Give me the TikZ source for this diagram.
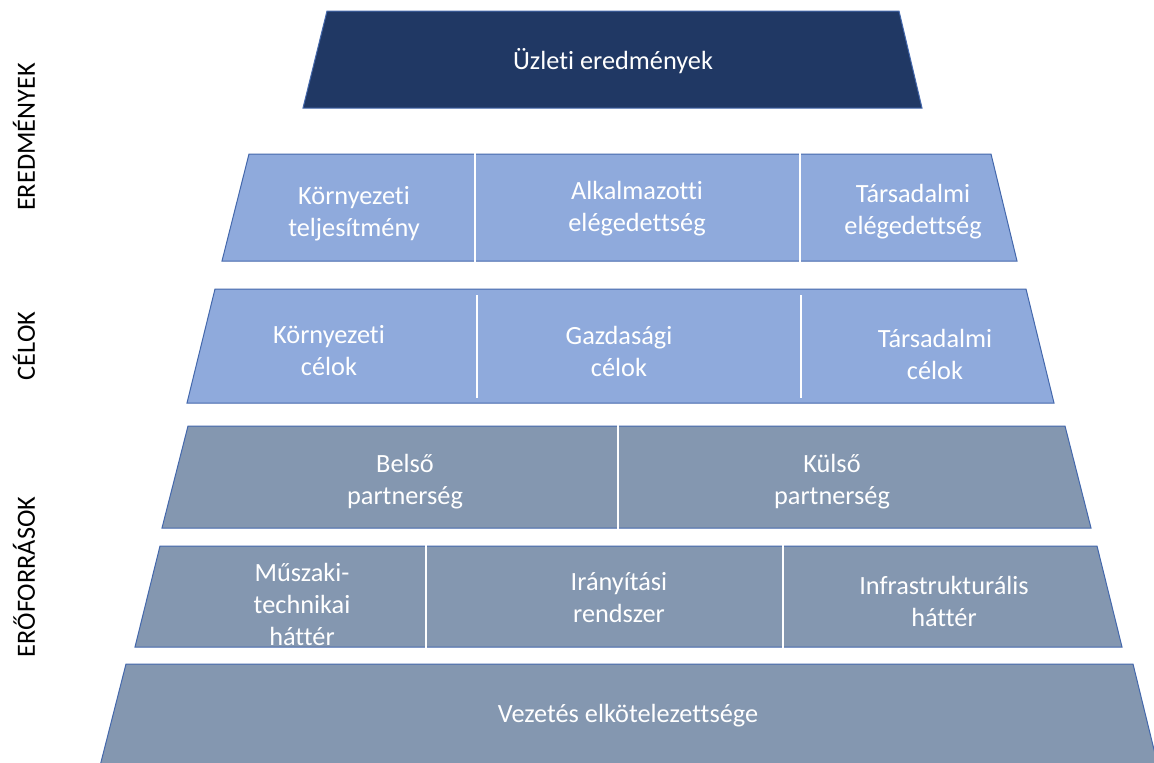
\documentclass[tikz,border=0pt]{standalone}
\usepackage{fontspec}
\setmainfont{Carlito}[Ligatures={NoCommon}]
\definecolor{navy}{HTML}{203864}
\definecolor{lblue}{HTML}{8FAADC}
\definecolor{gblue}{HTML}{8497B0}
\definecolor{edgeblue}{HTML}{4468AC}
\begin{document}
\begin{tikzpicture}[x=1pt,y=-1pt,
  tier/.style={draw=edgeblue, line width=1pt},
  lbl/.style={text=white, font=\fontsize{26.3}{32}\selectfont, align=center, inner sep=0pt},
  side/.style={text=black, font=\fontsize{26.3}{32}\selectfont, rotate=90, inner sep=0pt},
  sep/.style={white, line width=2.5pt}]
\useasboundingbox (0,0) rectangle (1154,763);
\clip (0,0) rectangle (1154,763);
\fill[white] (0,0) rectangle (1154,763);
% tier 1
\path[tier, fill=navy] (327,11) -- (899,11) -- (922,108) -- (303,108) -- cycle;
% tier 2
\path[tier, fill=lblue] (249,154) -- (991,154) -- (1017,261) -- (222,261) -- cycle;
\draw[sep] (475,153) -- (475,262);
\draw[sep] (800,153) -- (800,262);
% tier 3
\path[tier, fill=lblue] (215,289) -- (1026,289) -- (1054,403) -- (187,403) -- cycle;
\draw[sep] (477,295) -- (477,398);
\draw[sep] (801,295) -- (801,398);
% tier 4
\path[tier, fill=gblue] (188,426) -- (1065,426) -- (1091,528) -- (162,528) -- cycle;
\draw[sep] (618,425) -- (618,529);
% tier 5
\path[tier, fill=gblue] (160,546) -- (1097,546) -- (1122,647) -- (135,647) -- cycle;
\draw[sep] (426,545) -- (426,648);
\draw[sep] (783,545) -- (783,648);
% tier 6
\path[tier, fill=gblue] (126,664) -- (1133,664) -- (1159,770) -- (99,770) -- cycle;
% texts
\node[lbl] (t1) at (613,61) {Üzleti eredmények};
\node[lbl] (t2a) at (354,214) {Környezeti\\teljesítmény};
\node[lbl] (t2b) at (637,209) {Alkalmazotti\\elégedettség};
\node[lbl] (t2c) at (913,212) {Társadalmi\\elégedettség};
\node[lbl] (t3a) at (329,351) {Környezeti\\célok};
\node[lbl] (t3b) at (619,351) {Gazdasági\\célok};
\node[lbl] (t3c) at (935,354) {Társadalmi\\célok};
\node[lbl] (t4a) at (405,482) {Belső\\partnerség};
\node[lbl] (t4b) at (832,482) {Külső\\partnerség};
\node[lbl] (t5a) at (302,604) {Műszaki-\\technikai\\háttér};
\node[lbl] (t5b) at (619,598) {Irányítási\\rendszer};
\node[lbl] (t5c) at (944,601) {Infrastrukturális\\háttér};
\node[lbl] (t6) at (628,716) {Vezetés elkötelezettsége};
% side labels
\node[side] (s1) at (24,137) {EREDMÉNYEK};
\node[side] (s2) at (24,346) {CÉLOK};
\node[side] (s3) at (24,577) {ERŐFORRÁSOK};
\end{tikzpicture}
\end{document}
